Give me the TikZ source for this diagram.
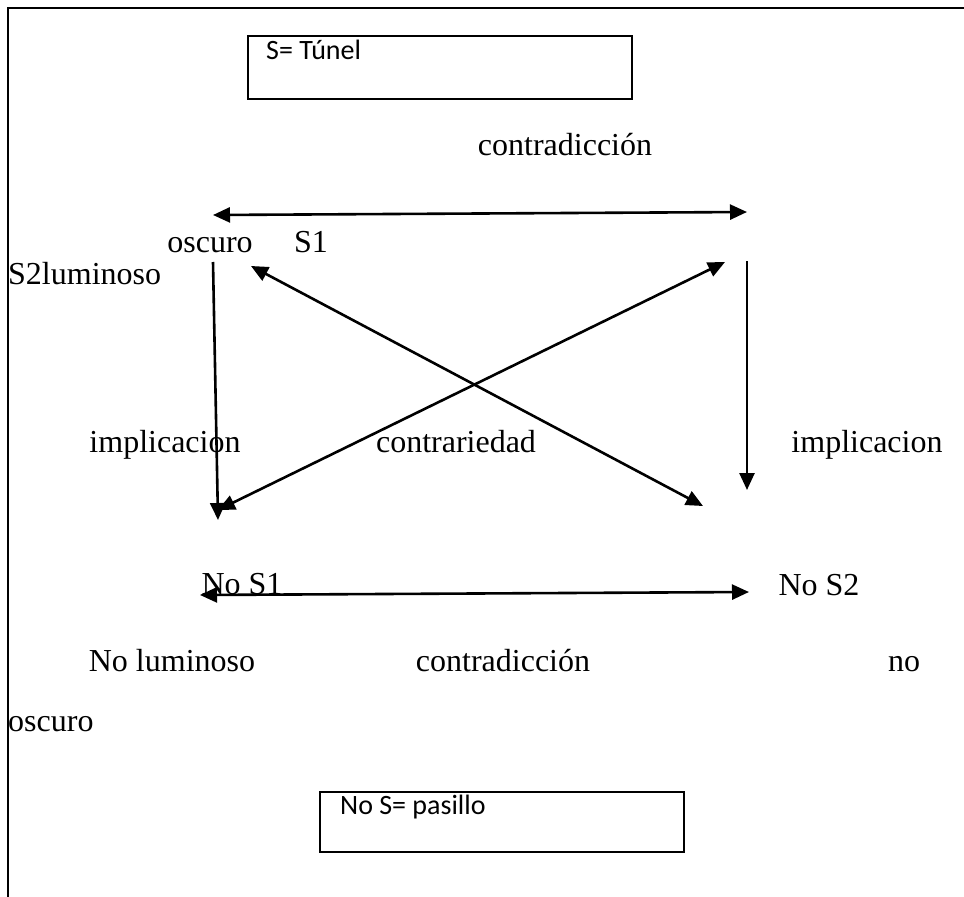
\documentclass[tikz,border=0pt]{standalone}
\usepackage{fontspec}
\setmainfont{Liberation Serif}
\newfontfamily\boxfont{Carlito}
\usetikzlibrary{arrows.meta}
\tikzset{
  frameline/.style={line width=1.6pt, black},
  boxst/.style={draw, line width=2pt, inner sep=0pt},
  boxtext/.style={font=\boxfont\fontsize{28}{33}\selectfont, inner sep=0pt, anchor=base west},
  lab/.style={font=\fontsize{32}{38}\selectfont, inner sep=0pt, anchor=base},
  labw/.style={font=\fontsize{32}{38}\selectfont, inner sep=0pt, anchor=base west},
  conn/.style={line width=2.6pt, -{Triangle[length=17pt,width=15pt]}},
  dconn/.style={line width=2.6pt, {Triangle[length=17pt,width=15pt]}-{Triangle[length=17pt,width=15pt]}}
}
\begin{document}
\begin{tikzpicture}[x=1pt,y=-1pt]
\useasboundingbox (0,0) rectangle (964,897);
% page frame (left and top rules)
\draw[frameline] (8,897) -- (8,8) -- (964,8);

% boxes
\node[boxst, minimum width=384pt, minimum height=63pt, anchor=north west] (tbox) at (247,35) {};
\node[boxtext] (ttxt) at (266,59) {S= Túnel};
\node[boxst, minimum width=364pt, minimum height=60pt, anchor=north west] (bbox) at (319,791) {};
\node[boxtext] (btxt) at (340,814) {No S= pasillo};

% labels
\node[lab] (contr1) at (565,155) {contradicción};
\node[lab] (osc1) at (210,252) {oscuro};
\node[lab] (s1) at (311,252) {S1};
\node[labw] (s2) at (8,284) {S2luminoso};
\node[lab] (impl1) at (165,452) {implicacion};
\node[lab] (contrar) at (456,452) {contrariedad};
\node[lab] (impl2) at (867,452) {implicacion};
\node[lab] (nos1) at (242,594) {No S1};
\node[lab] (nos2) at (819,595) {No S2};
\node[lab] (nolum) at (172,671) {No luminoso};
\node[lab] (contr2) at (503,671) {contradicción};
\node[lab] (no) at (904,671) {no};
\node[labw] (osc2) at (8,731) {oscuro};

% arrow end points
\coordinate (tl) at (213,215);
\coordinate (tr) at (747,212);
\coordinate (lv1) at (213,262);
\coordinate (lv2) at (218,520);
\coordinate (rv1) at (747,261);
\coordinate (rv2) at (747,490);
\coordinate (da1) at (251,266);
\coordinate (da2) at (703,506);
\coordinate (db1) at (725,262);
\coordinate (db2) at (218,510);
\coordinate (bl) at (200,595);
\coordinate (br) at (749,592);

% connectors
\draw[dconn] (tl) -- (tr);
\draw[conn] (lv1) -- (lv2);
\draw[conn] (rv1) -- (rv2);
\draw[dconn] (da1) -- (da2);
\draw[dconn] (db1) -- (db2);
\draw[dconn] (bl) -- (br);
\end{tikzpicture}
\end{document}
